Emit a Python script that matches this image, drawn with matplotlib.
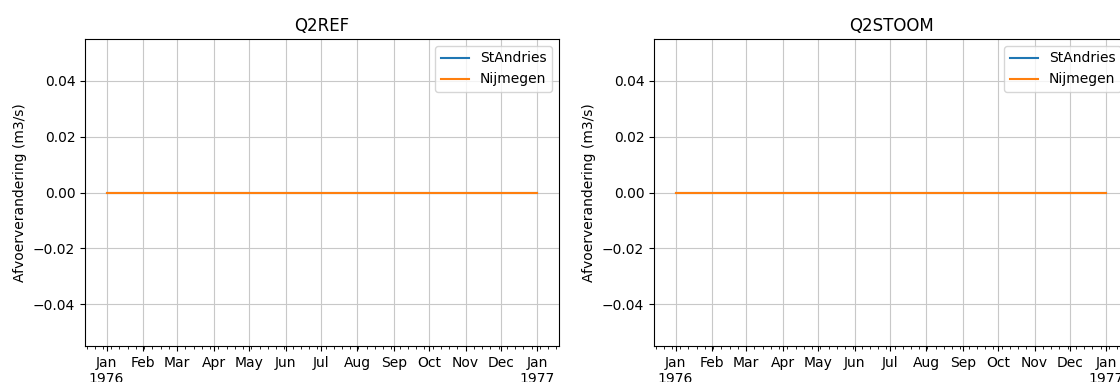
import numpy as np
import pandas as pd
import matplotlib
matplotlib.use("Agg")
from matplotlib import pyplot as plt
import matplotlib.dates as mdates

# daily series for 1976, no change at either station
dates = pd.date_range("1976-01-01", "1977-01-01", freq="D")
q2ref_standries = [0.0] * len(dates)
q2ref_nijmegen = [0.0] * len(dates)
q2stoom_standries = [0.0] * len(dates)
q2stoom_nijmegen = [0.0] * len(dates)

titles = ["Q2REF", "Q2STOOM"]
series = [(q2ref_standries, q2ref_nijmegen), (q2stoom_standries, q2stoom_nijmegen)]


def fmt_month(x, pos=None):
    d = mdates.num2date(x)
    if d.month == 1:
        return d.strftime("%b\n%Y")
    return d.strftime("%b")


fig = plt.figure(figsize=(11.2, 3.82), dpi=100)
W, H = 1120.0, 382.0
lefts = [85, 654]
for i, left in enumerate(lefts):
    ax = fig.add_axes([left / W, 36 / H, 474 / W, 307 / H])
    st, nij = series[i]
    ax.plot(dates, st, label="StAndries")
    ax.plot(dates, nij, label="Nijmegen")
    ax.set_title(titles[i])
    ax.set_ylabel("Afvoerverandering (m3/s)")
    ax.xaxis.set_major_locator(mdates.MonthLocator())
    ax.xaxis.set_major_formatter(plt.FuncFormatter(fmt_month))
    ax.xaxis.set_minor_locator(mdates.WeekdayLocator(byweekday=mdates.MO))
    ax.grid(True, color="#c8c8c8")
    ax.legend(loc="upper right")

fig.savefig("out.png", dpi=100)
